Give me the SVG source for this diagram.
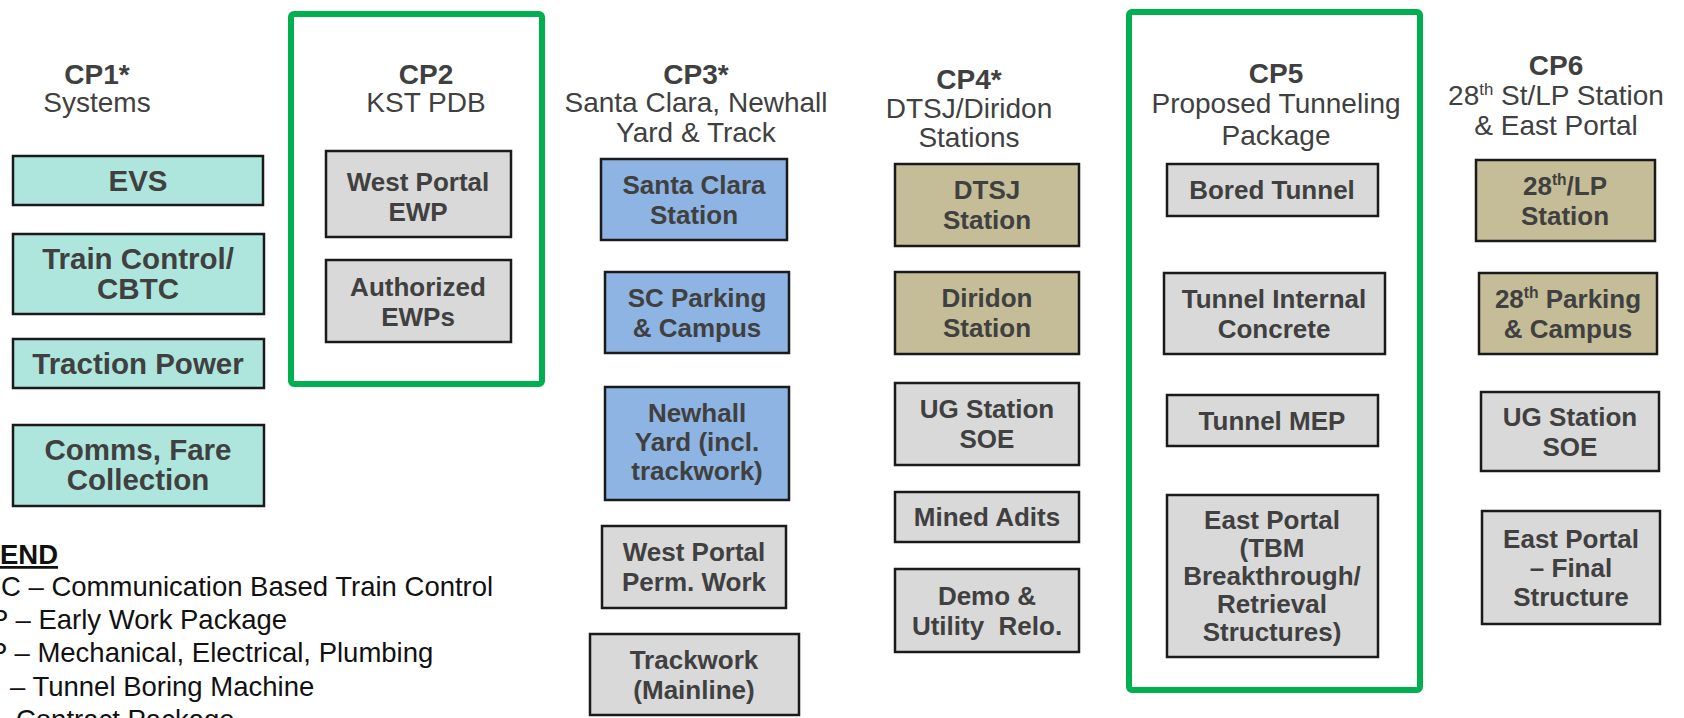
<svg xmlns="http://www.w3.org/2000/svg" width="1684" height="718" viewBox="0 0 1684 718">
<style>
  text { font-family: "Liberation Sans", Arial, sans-serif; fill: #404040; }
  .hb { font-weight: bold; font-size: 28px; text-anchor: middle; }
  .hr { font-size: 28px; text-anchor: middle; }
  .bt { font-weight: bold; font-size: 26px; text-anchor: middle; }
  .bt1 { font-weight: bold; font-size: 29.5px; text-anchor: middle; }
  .box { stroke: #1a1a1a; stroke-width: 2.5; }
  .teal { fill: #aee6dd; }
  .blue { fill: #8db4e2; }
  .tan { fill: #c4bd97; }
  .gray { fill: #d9d9d9; }
  .frame { fill: none; stroke: #00b050; stroke-width: 6; }
  .leg { font-size: 27.5px; fill: #111111; }
  .sup { font-size: 0.6em; }
</style>
<rect width="1684" height="718" fill="#ffffff"/>

<g id="frames">
  <rect class="frame" x="291" y="14" width="251" height="370" rx="3"/>
  <rect class="frame" x="1129" y="12" width="291" height="678" rx="3"/>
</g>

<g id="headers">
  <g id="h-cp1"><text class="hb" x="97" y="84">CP1*</text><text class="hr" x="97" y="112">Systems</text></g>
  <g id="h-cp2"><text class="hb" x="426" y="84">CP2</text><text class="hr" x="426" y="112">KST PDB</text></g>
  <g id="h-cp3"><text class="hb" x="696" y="84">CP3*</text><text class="hr" x="696" y="112">Santa Clara, Newhall</text><text class="hr" x="696" y="142">Yard &amp; Track</text></g>
  <g id="h-cp4"><text class="hb" x="969" y="89">CP4*</text><text class="hr" x="969" y="118">DTSJ/Diridon</text><text class="hr" x="969" y="147">Stations</text></g>
  <g id="h-cp5"><text class="hb" x="1276" y="83">CP5</text><text class="hr" x="1276" y="113">Proposed Tunneling</text><text class="hr" x="1276" y="145">Package</text></g>
  <g id="h-cp6"><text class="hb" x="1556" y="75">CP6</text><text class="hr" x="1556" y="105">28<tspan class="sup" dy="-10">th</tspan><tspan dy="10"> St/LP Station</tspan></text><text class="hr" x="1556" y="135">&amp; East Portal</text></g>
</g>

<g id="cp1-evs"><rect class="box teal" x="13" y="156" width="250" height="49"/><text class="bt1" x="138" y="191">EVS</text></g>
<g id="cp1-train-control"><rect class="box teal" x="13" y="234" width="251" height="80"/><text class="bt1" x="138" y="269">Train Control/</text><text class="bt1" x="138" y="299">CBTC</text></g>
<g id="cp1-traction"><rect class="box teal" x="13" y="339" width="251" height="49"/><text class="bt1" x="138" y="374">Traction Power</text></g>
<g id="cp1-comms"><rect class="box teal" x="13" y="425" width="251" height="81"/><text class="bt1" x="138" y="460">Comms, Fare</text><text class="bt1" x="138" y="490">Collection</text></g>

<g id="cp2-west-portal"><rect class="box gray" x="326" y="151" width="185" height="86"/><text class="bt" x="418" y="191">West Portal</text><text class="bt" x="418" y="221">EWP</text></g>
<g id="cp2-authorized"><rect class="box gray" x="326" y="260" width="185" height="82"/><text class="bt" x="418" y="296">Authorized</text><text class="bt" x="418" y="326">EWPs</text></g>

<g id="cp3-santa-clara"><rect class="box blue" x="601" y="159" width="186" height="81"/><text class="bt" x="694" y="194">Santa Clara</text><text class="bt" x="694" y="224">Station</text></g>
<g id="cp3-sc-parking"><rect class="box blue" x="605" y="272" width="184" height="81"/><text class="bt" x="697" y="307">SC Parking</text><text class="bt" x="697" y="337">&amp; Campus</text></g>
<g id="cp3-newhall"><rect class="box blue" x="605" y="387" width="184" height="113"/><text class="bt" x="697" y="422">Newhall</text><text class="bt" x="697" y="451">Yard (incl.</text><text class="bt" x="697" y="480">trackwork)</text></g>
<g id="cp3-west-portal"><rect class="box gray" x="602" y="526" width="184" height="82"/><text class="bt" x="694" y="561">West Portal</text><text class="bt" x="694" y="591">Perm. Work</text></g>
<g id="cp3-trackwork"><rect class="box gray" x="590" y="634" width="209" height="81"/><text class="bt" x="694" y="669">Trackwork</text><text class="bt" x="694" y="699">(Mainline)</text></g>

<g id="cp4-dtsj"><rect class="box tan" x="895" y="164" width="184" height="82"/><text class="bt" x="987" y="199">DTSJ</text><text class="bt" x="987" y="229">Station</text></g>
<g id="cp4-diridon"><rect class="box tan" x="895" y="272" width="184" height="82"/><text class="bt" x="987" y="307">Diridon</text><text class="bt" x="987" y="337">Station</text></g>
<g id="cp4-ug-soe"><rect class="box gray" x="895" y="383" width="184" height="82"/><text class="bt" x="987" y="418">UG Station</text><text class="bt" x="987" y="448">SOE</text></g>
<g id="cp4-mined-adits"><rect class="box gray" x="895" y="492" width="184" height="50"/><text class="bt" x="987" y="526">Mined Adits</text></g>
<g id="cp4-demo"><rect class="box gray" x="895" y="569" width="184" height="83"/><text class="bt" x="987" y="605">Demo &amp;</text><text class="bt" x="987" y="635" xml:space="preserve">Utility  Relo.</text></g>

<g id="cp5-bored"><rect class="box gray" x="1167" y="164" width="211" height="52"/><text class="bt" x="1272" y="199">Bored Tunnel</text></g>
<g id="cp5-internal"><rect class="box gray" x="1164" y="273" width="221" height="81"/><text class="bt" x="1274" y="308">Tunnel Internal</text><text class="bt" x="1274" y="338">Concrete</text></g>
<g id="cp5-mep"><rect class="box gray" x="1167" y="395" width="211" height="51"/><text class="bt" x="1272" y="430">Tunnel MEP</text></g>
<g id="cp5-east-portal"><rect class="box gray" x="1167" y="495" width="211" height="162"/><text class="bt" x="1272" y="529">East Portal</text><text class="bt" x="1272" y="557">(TBM</text><text class="bt" x="1272" y="585">Breakthrough/</text><text class="bt" x="1272" y="613">Retrieval</text><text class="bt" x="1272" y="641">Structures)</text></g>

<g id="cp6-station"><rect class="box tan" x="1476" y="160" width="179" height="81"/><text class="bt" x="1565" y="195">28<tspan class="sup" dy="-10">th</tspan><tspan dy="10">/LP</tspan></text><text class="bt" x="1565" y="225">Station</text></g>
<g id="cp6-parking"><rect class="box tan" x="1479" y="273" width="178" height="81"/><text class="bt" x="1568" y="308">28<tspan class="sup" dy="-10">th</tspan><tspan dy="10"> Parking</tspan></text><text class="bt" x="1568" y="338">&amp; Campus</text></g>
<g id="cp6-ug-soe"><rect class="box gray" x="1481" y="392" width="178" height="79"/><text class="bt" x="1570" y="426">UG Station</text><text class="bt" x="1570" y="456">SOE</text></g>
<g id="cp6-east-portal"><rect class="box gray" x="1482" y="511" width="178" height="113"/><text class="bt" x="1571" y="548">East Portal</text><text class="bt" x="1571" y="577">– Final</text><text class="bt" x="1571" y="606">Structure</text></g>

<g id="connectors"></g>

<g id="legend">
  <text class="leg" x="0" y="564" font-weight="bold" text-decoration="underline">END</text>
  <text class="leg" x="1" y="596">C – Communication Based Train Control</text>
  <text class="leg" x="-10" y="629">P – Early Work Package</text>
  <text class="leg" x="-11" y="662">P – Mechanical, Electrical, Plumbing</text>
  <text class="leg" x="10" y="696">– Tunnel Boring Machine</text>
  <text class="leg" x="-7" y="729">– Contract Package</text>
</g>
</svg>
